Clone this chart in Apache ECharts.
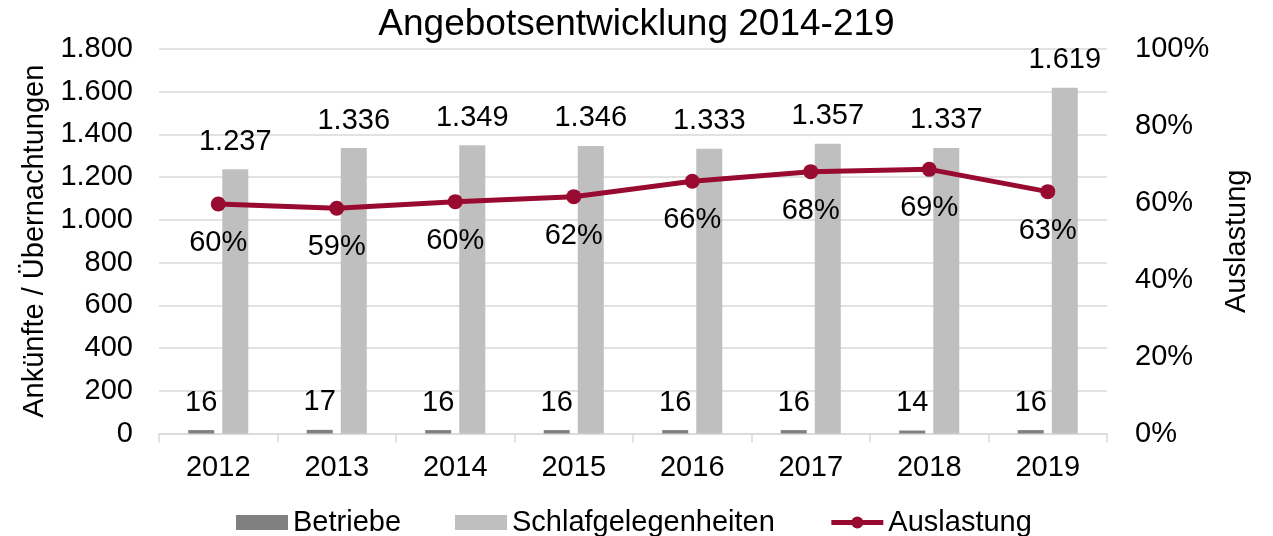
<!DOCTYPE html>
<html>
<head>
<meta charset="utf-8">
<script src="https://cdn.jsdelivr.net/npm/echarts@6/dist/echarts.min.js"></script>
<style>
  html, body { margin: 0; padding: 0; background: #fff; }
  #chart { width: 1273px; height: 536px; }
</style>
</head>
<body>
<div id="chart"></div>
<script>
const years = ["2012", "2013", "2014", "2015", "2016", "2017", "2018", "2019"];
const betriebe = [16, 17, 16, 16, 16, 16, 14, 16];
const schlafgelegenheiten = [1237, 1336, 1349, 1346, 1333, 1357, 1337, 1619];
const auslastung = [59.7, 58.6, 60.3, 61.6, 65.6, 68.1, 68.7, 62.9];

const font = "Liberation Sans, Arial, sans-serif";
const fs = 29;
const lineColor = "#990a30";

// 1.800 style thousands separator
const de = (v) => String(v).replace(/\B(?=(\d{3})+(?!\d))/g, ".");

const chart = echarts.init(document.getElementById("chart"));

const option = {
  animation: false,
  textStyle: { fontFamily: font, color: "#000" },
  title: {
    text: "Angebotsentwicklung 2014-219",
    left: "center",
    top: 1,
    textStyle: { fontFamily: font, fontSize: 37, fontWeight: "normal", color: "#000" },
  },
  grid: {
    left: 159,
    right: 166,
    top: 49,
    bottom: 102.5,
  },
  legend: {
    top: 503,
    left: 231,
    itemWidth: 52,
    itemHeight: 15,
    itemGap: 54,
    lineStyle: { width: 5 },
    textStyle: { fontFamily: font, fontSize: fs, color: "#000" },
    data: [
      { name: "Betriebe", icon: "rect" },
      { name: "Schlafgelegenheiten", icon: "rect" },
      { name: "Auslastung" },
    ],
  },
  xAxis: {
    type: "category",
    data: years,
    axisLine: { lineStyle: { color: "#d9d9d9", width: 1.5 } },
    axisTick: { show: true, length: 9, lineStyle: { color: "#d9d9d9", width: 1.5 } },
    axisLabel: { fontSize: fs, color: "#000", margin: 20, fontFamily: font },
  },
  yAxis: [
    {
      type: "value",
      min: 0,
      max: 1800,
      interval: 200,
      name: "Ankünfte / Übernachtungen",
      nameLocation: "middle",
      nameGap: 106,
      nameTextStyle: { fontSize: fs, color: "#000", fontFamily: font },
      axisLine: { show: false },
      axisTick: { show: false },
      axisLabel: { fontSize: fs, color: "#000", margin: 26, fontFamily: font, formatter: de },
      splitLine: { lineStyle: { color: "#d9d9d9", width: 1.5 } },
    },
    {
      type: "value",
      min: 0,
      max: 100,
      interval: 20,
      name: "Auslastung",
      nameLocation: "middle",
      nameGap: 115,
      nameTextStyle: { fontSize: fs, color: "#000", fontFamily: font },
      axisLine: { show: false },
      axisTick: { show: false },
      axisLabel: { fontSize: fs, color: "#000", margin: 28, fontFamily: font, formatter: "{value}%" },
      splitLine: { show: false },
    },
  ],
  series: [
    {
      name: "Betriebe",
      type: "bar",
      data: betriebe,
      barWidth: 26,
      barGap: "31%",
      itemStyle: { color: "#808080" },
      label: {
        show: true,
        position: "top",
        distance: 13,
        fontSize: fs,
        color: "#000",
        fontFamily: font,
      },
    },
    {
      name: "Schlafgelegenheiten",
      type: "bar",
      data: schlafgelegenheiten,
      barWidth: 26,
      itemStyle: { color: "#bfbfbf" },
      label: {
        show: true,
        position: "top",
        distance: 13,
        fontSize: fs,
        color: "#000",
        fontFamily: font,
        formatter: (p) => de(p.value),
      },
    },
    {
      name: "Auslastung",
      type: "line",
      yAxisIndex: 1,
      data: auslastung,
      symbol: "circle",
      symbolSize: 15,
      lineStyle: { color: lineColor, width: 5 },
      itemStyle: { color: lineColor },
      z: 5,
      label: {
        show: true,
        position: "bottom",
        distance: 17,
        fontSize: fs,
        color: "#000",
        fontFamily: font,
        formatter: (p) => Math.round(p.value) + "%",
      },
    },
  ],
};

chart.setOption(option);
</script>
</body>
</html>
